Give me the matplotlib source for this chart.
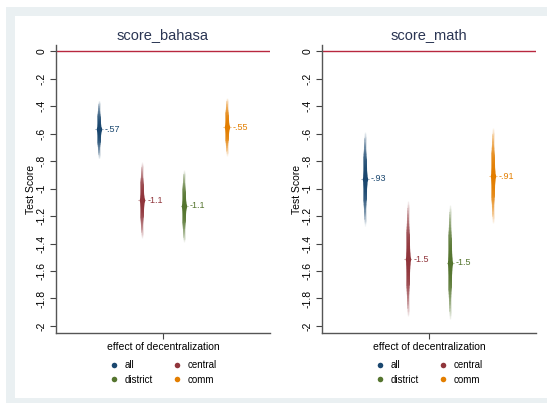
import numpy as np
import matplotlib.pyplot as plt
from matplotlib.patches import Rectangle
from matplotlib.lines import Line2D

plt.rcParams['font.family'] = ['Liberation Sans', 'DejaVu Sans']

# Data (point estimates and outer CI bounds)
groups = ["all", "central", "district", "comm"]
colors = ["#1a476f", "#90353b", "#55752f", "#e37e00"]
panels = ["score_bahasa", "score_math"]

bahasa_coef = [-0.57, -1.085, -1.127, -0.553]
bahasa_lo = [-0.78, -1.36, -1.39, -0.76]
bahasa_hi = [-0.36, -0.81, -0.865, -0.34]

math_coef = [-0.93, -1.515, -1.54, -0.91]
math_lo = [-1.27, -1.93, -1.95, -1.25]
math_hi = [-0.59, -1.09, -1.12, -0.56]

coefs = [bahasa_coef, math_coef]
los = [bahasa_lo, math_lo]
his = [bahasa_hi, math_hi]

yticks = [0, -0.2, -0.4, -0.6, -0.8, -1, -1.2, -1.4, -1.6, -1.8, -2]
ytick_labels = ["0", "-.2", "-.4", "-.6", "-.8", "-1", "-1.2", "-1.4", "-1.6", "-1.8", "-2"]


def fmt(v):
    s = f"{v:.2g}"
    return s.replace("0.", ".")


def mix(c, f):
    r, g, b = [int(c[i:i + 2], 16) / 255 for i in (1, 3, 5)]
    return (1 - f * (1 - r), 1 - f * (1 - g), 1 - f * (1 - b))


fig = plt.figure(figsize=(5.47, 4.03), dpi=100)
fig.patch.set_facecolor("white")
W, H = 547, 403
# graph region frame
fig.patches.append(Rectangle((6 / W, 0), 1, 1 - 7 / H, transform=fig.transFigure,
                             facecolor="#eaf0f2", edgecolor="none", zorder=-20))
fig.patches.append(Rectangle((15 / W, 5 / H), 1, 1 - 16 / H - 5 / H, transform=fig.transFigure,
                             facecolor="white", edgecolor="none", zorder=-10))

lefts = [56, 322]
nb = 40
for p in range(2):
    ax = fig.add_axes([lefts[p] / W, 1 - 333 / H, 214 / W, 288 / H])
    ax.set_facecolor("none")
    ax.axhline(0, color="#b8283f", lw=1, zorder=1)
    for i, g in enumerate(groups):
        x = i + 1
        c = coefs[p][i]
        up = his[p][i] - c
        dn = c - los[p][i]
        # smoothed CI: nested spikes, outer ones thin and light
        for j in range(nb, 0, -1):
            f = j / nb
            strength = 1 - 0.93 * f ** 2.4
            lw = 2.6 - 1.7 * f
            ax.plot([x, x], [c - dn * f, c + up * f], color=mix(colors[i], strength),
                    lw=lw, solid_capstyle="butt", zorder=2)
        ax.plot([x - 0.09, x + 0.09], [c, c], color=mix(colors[i], 0.35), lw=0.6, zorder=3)
        ax.plot(x, c, "o", color=colors[i], ms=4, mec="none", zorder=4)
        ax.annotate(fmt(c), (x, c), xytext=(4, 0), textcoords="offset points",
                    va="center", ha="left", fontsize=6.5, color=colors[i])
    ax.set_xlim(0, 5)
    ax.set_ylim(-2.051, 0.044)
    ax.set_yticks(yticks)
    ax.set_yticklabels(ytick_labels, rotation=90, va="center", fontsize=7.5)
    ax.set_xticks([2.5])
    ax.set_xticklabels(["effect of decentralization"], fontsize=7.5)
    ax.tick_params(length=4, width=0.8, color="#444444", pad=2.5)
    for s in ("top", "right"):
        ax.spines[s].set_visible(False)
    for s in ("left", "bottom"):
        ax.spines[s].set_color("#555555")
        ax.spines[s].set_linewidth(1)
    ax.set_ylabel("Test Score", fontsize=7.5, labelpad=1)
    ax.set_title(panels[p], fontsize=10.5, color="#2a3553", pad=4)
    order = [0, 2, 1, 3]
    handles = [Line2D([], [], marker="o", ls="none", color=colors[k], ms=4, mec="none") for k in order]
    ax.legend(handles, [groups[k] for k in order], ncol=2, loc="upper center",
              bbox_to_anchor=(0.5, -0.065), frameon=False, fontsize=7,
              handletextpad=0.6, columnspacing=2.0, handlelength=1, labelspacing=0.45)

fig.savefig("out.png", dpi=100, facecolor="white")
